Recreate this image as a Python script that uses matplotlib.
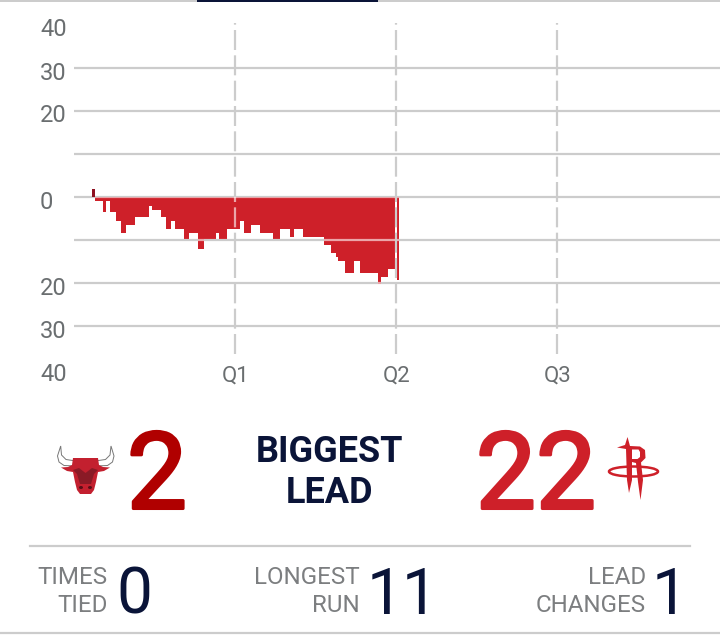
"""
Lead tracker panel: running margin by quarter plus the game summary numbers.
"""
import matplotlib
matplotlib.use('Agg')
import matplotlib.pyplot as plt
import matplotlib.patheffects as pe
from matplotlib.patches import Polygon, Ellipse, Rectangle
from matplotlib.transforms import ScaledTranslation

W, H = 720, 636

# game clock (minutes played) at each change of margin
bulls_edges = [1.34, 1.56]
bulls_margin = [1.9]

rockets_edges = [1.56, 2.16, 2.38, 2.68, 3.13, 3.50, 3.85, 4.54, 5.59, 5.79, 6.46, 6.86,
                 7.23, 7.53, 8.20, 8.57, 9.27, 9.69, 10.58, 10.81, 11.38, 12.0, 12.37,
                 12.67, 13.19, 13.86, 14.83, 15.35, 16.10, 16.40, 17.07, 18.63, 19.15,
                 19.52, 19.67, 20.19, 20.86, 21.31, 22.65, 22.87, 23.39, 23.96, 24.07, 24.22]
rockets_margin = [-1.0, -3.6, -1.0, -3.6, -5.6, -8.3, -6.4, -4.6, -2.0, -3.0, -4.6, -7.4,
                  -5.6, -7.4, -9.8, -8.3, -12.0, -9.8, -8.3, -9.8, -7.4, -7.4, -5.6,
                  -8.3, -6.5, -8.3, -9.8, -7.4, -9.2, -7.4, -9.2, -11.2, -13.0,
                  -13.9, -14.8, -17.6, -14.8, -17.6, -20.3, -18.5, -16.7, 0, -19.3]

grid_values = [30, 20, 10, 0, -10, -20, -30]
y_ticks = [40, 30, 20, 10, 0, -10, -20, -30, -40]
y_labels = ['40', '30', '20', '', '0', '', '20', '30', '40']
quarter_ticks = [12, 24, 36]
quarter_labels = ['Q1', 'Q2', 'Q3']

BULLS_RED = '#b00000'
BULLS_DARK = '#8e1020'
ROCKETS_RED = '#ce2029'
NAVY = '#0a1438'
GREY_LINE = '#cccccc'
GREY_TEXT = '#6a6e70'
GREY_LABEL = '#7c7e80'
DASHES = (0, (9, 2.4))

plt.rcParams['font.family'] = ['Roboto', 'DejaVu Sans']

fig = plt.figure(figsize=(W / 100, H / 100), dpi=100)
fig.patch.set_facecolor('white')

# overlay in pixel coordinates for the summary block and logos
page = fig.add_axes([0, 0, 1, 1])
page.set_xlim(0, W)
page.set_ylim(H, 0)
page.axis('off')

# chart axes run from x=74 to the right edge, y=0 sits at pixel 197
top_px, bottom_px = 15, 385
ax = fig.add_axes([74 / W, 1 - bottom_px / H, (W - 74) / W, (bottom_px - top_px) / H])
ax.patch.set_alpha(0)
ax.set_xlim(0, (W - 74) / 161 * 12)
ax.set_ylim(-(bottom_px - 197) / 4.3, (197 - top_px) / 4.3)
for side in ax.spines.values():
    side.set_visible(False)

ax.set_yticks(y_ticks)
ax.set_yticklabels(y_labels, fontsize=17, color=GREY_TEXT)
ax.tick_params(axis='y', length=0, pad=24.5)
nudge = ScaledTranslation(0, -2.5 / 100, fig.dpi_scale_trans)
for lab in ax.get_yticklabels():
    lab.set_horizontalalignment('left')
    lab.set_transform(lab.get_transform() + nudge)
ax.set_xticks([])

x_end = ax.get_xlim()[1]
ax.hlines(grid_values, 0, x_end, color=GREY_LINE, lw=1.6, zorder=1)
ax.vlines(quarter_ticks, -36.5, 40.5, color=GREY_LINE, lw=1.6, linestyles=DASHES, zorder=1)

fill = ax.stairs(rockets_margin, rockets_edges, baseline=0, fill=True, color=ROCKETS_RED, lw=0, zorder=2)
ax.stairs(bulls_margin, bulls_edges, baseline=0, fill=True, color=BULLS_DARK, lw=0, zorder=2)

# grid shows through the fill as a pale line
pale_h = ax.hlines(grid_values, 0, x_end, color='white', alpha=0.6, lw=1.6, zorder=3)
pale_v = ax.vlines(quarter_ticks, -36.5, 40.5, color='white', alpha=0.6, lw=1.6, linestyles=DASHES, zorder=3)
pale_h.set_clip_path(fill)
pale_v.set_clip_path(fill)

for q, lab in zip(quarter_ticks, quarter_labels):
    ax.text(q + 0.07, -41.6, lab, ha='center', va='center', fontsize=16, color=GREY_TEXT)

# top tab bar
page.add_patch(Rectangle((0, 0), W, 1.5, color=GREY_LINE, lw=0))
page.add_patch(Rectangle((197, 0), 181, 2.2, color=NAVY, lw=0))

# summary numbers, regular weight thickened a little to get the medium look
for x, txt, col in [(157, '2', BULLS_RED), (536, '22', ROCKETS_RED)]:
    page.text(x, 479, txt, ha='center', va='center', fontsize=77, color=col,
              path_effects=[pe.withStroke(linewidth=2.2, foreground=col)])
page.text(330, 452, 'BIGGEST', ha='center', va='center', fontsize=26, fontweight='bold', color=NAVY)
page.text(330, 493, 'LEAD', ha='center', va='center', fontsize=26, fontweight='bold', color=NAVY)

page.plot([30, 690], [546, 546], color=GREY_LINE, lw=1.6)
page.plot([0, W], [632.5, 632.5], color=GREY_LINE, lw=1.6)

page.text(108, 577, 'TIMES', ha='right', va='center', fontsize=17.4, color=GREY_LABEL)
page.text(108, 605, 'TIED', ha='right', va='center', fontsize=17.4, color=GREY_LABEL)
page.text(134, 596, '0', ha='center', va='center', fontsize=46, color=NAVY)
page.text(360, 577, 'LONGEST', ha='right', va='center', fontsize=17.4, color=GREY_LABEL)
page.text(360, 605, 'RUN', ha='right', va='center', fontsize=17.4, color=GREY_LABEL)
page.text(403, 596, '11', ha='center', va='center', fontsize=46, color=NAVY)
page.text(646, 577, 'LEAD', ha='right', va='center', fontsize=17.4, color=GREY_LABEL)
page.text(646, 605, 'CHANGES', ha='right', va='center', fontsize=17.4, color=GREY_LABEL)
page.text(670, 596, '1', ha='center', va='center', fontsize=46, color=NAVY)

# bull logo
page.add_patch(Polygon([(60.7, 446), (57.5, 456), (59, 462), (64, 465.5), (76, 466), (76, 461),
                        (66, 459.5), (61.5, 455)], fc='white', ec='#777777', lw=0.7))
page.add_patch(Polygon([(111, 446), (114, 456), (112.5, 462), (107.5, 465.5), (95, 466), (95, 461),
                        (105.5, 459.5), (110, 455)], fc='white', ec='#777777', lw=0.7))
page.add_patch(Polygon([(73, 458), (98, 458), (99, 465), (103, 467), (110, 467.5), (104, 471),
                        (98, 472), (96, 482), (94, 490), (91, 494), (80, 494), (77, 490),
                        (75, 482), (73, 472), (67, 471), (61, 467.5), (68, 467), (72, 465)],
                       fc='#c3202f', lw=0))
page.add_patch(Polygon([(73, 470), (79, 468), (85.5, 473), (92, 468), (98, 470), (94, 474),
                        (91, 484), (80, 484), (77, 474)], fc='#8a1a26', lw=0))
page.add_patch(Ellipse((81, 487.5), 4, 3, fc='#5a0f18', lw=0))
page.add_patch(Ellipse((90, 487.5), 4, 3, fc='#5a0f18', lw=0))

# rockets logo
page.add_patch(Ellipse((633.5, 471.5), 49, 10, fc='none', ec=ROCKETS_RED, lw=1.8))
page.add_patch(Polygon([(627.5, 437), (630, 446), (640, 446.5), (645, 450), (645.5, 458), (641, 462.5),
                        (643, 480), (640.5, 500), (638, 482), (636, 463), (632, 462), (632, 480),
                        (629, 493), (627, 480), (626, 449), (617, 447.5), (625, 445)],
                       fc=ROCKETS_RED, lw=0))
page.add_patch(Polygon([(632, 449.5), (638.5, 449.5), (640, 452), (640, 457), (637.5, 459), (632, 459)],
                       fc='white', lw=0))

fig.savefig('out.png', dpi=100)
plt.close(fig)
